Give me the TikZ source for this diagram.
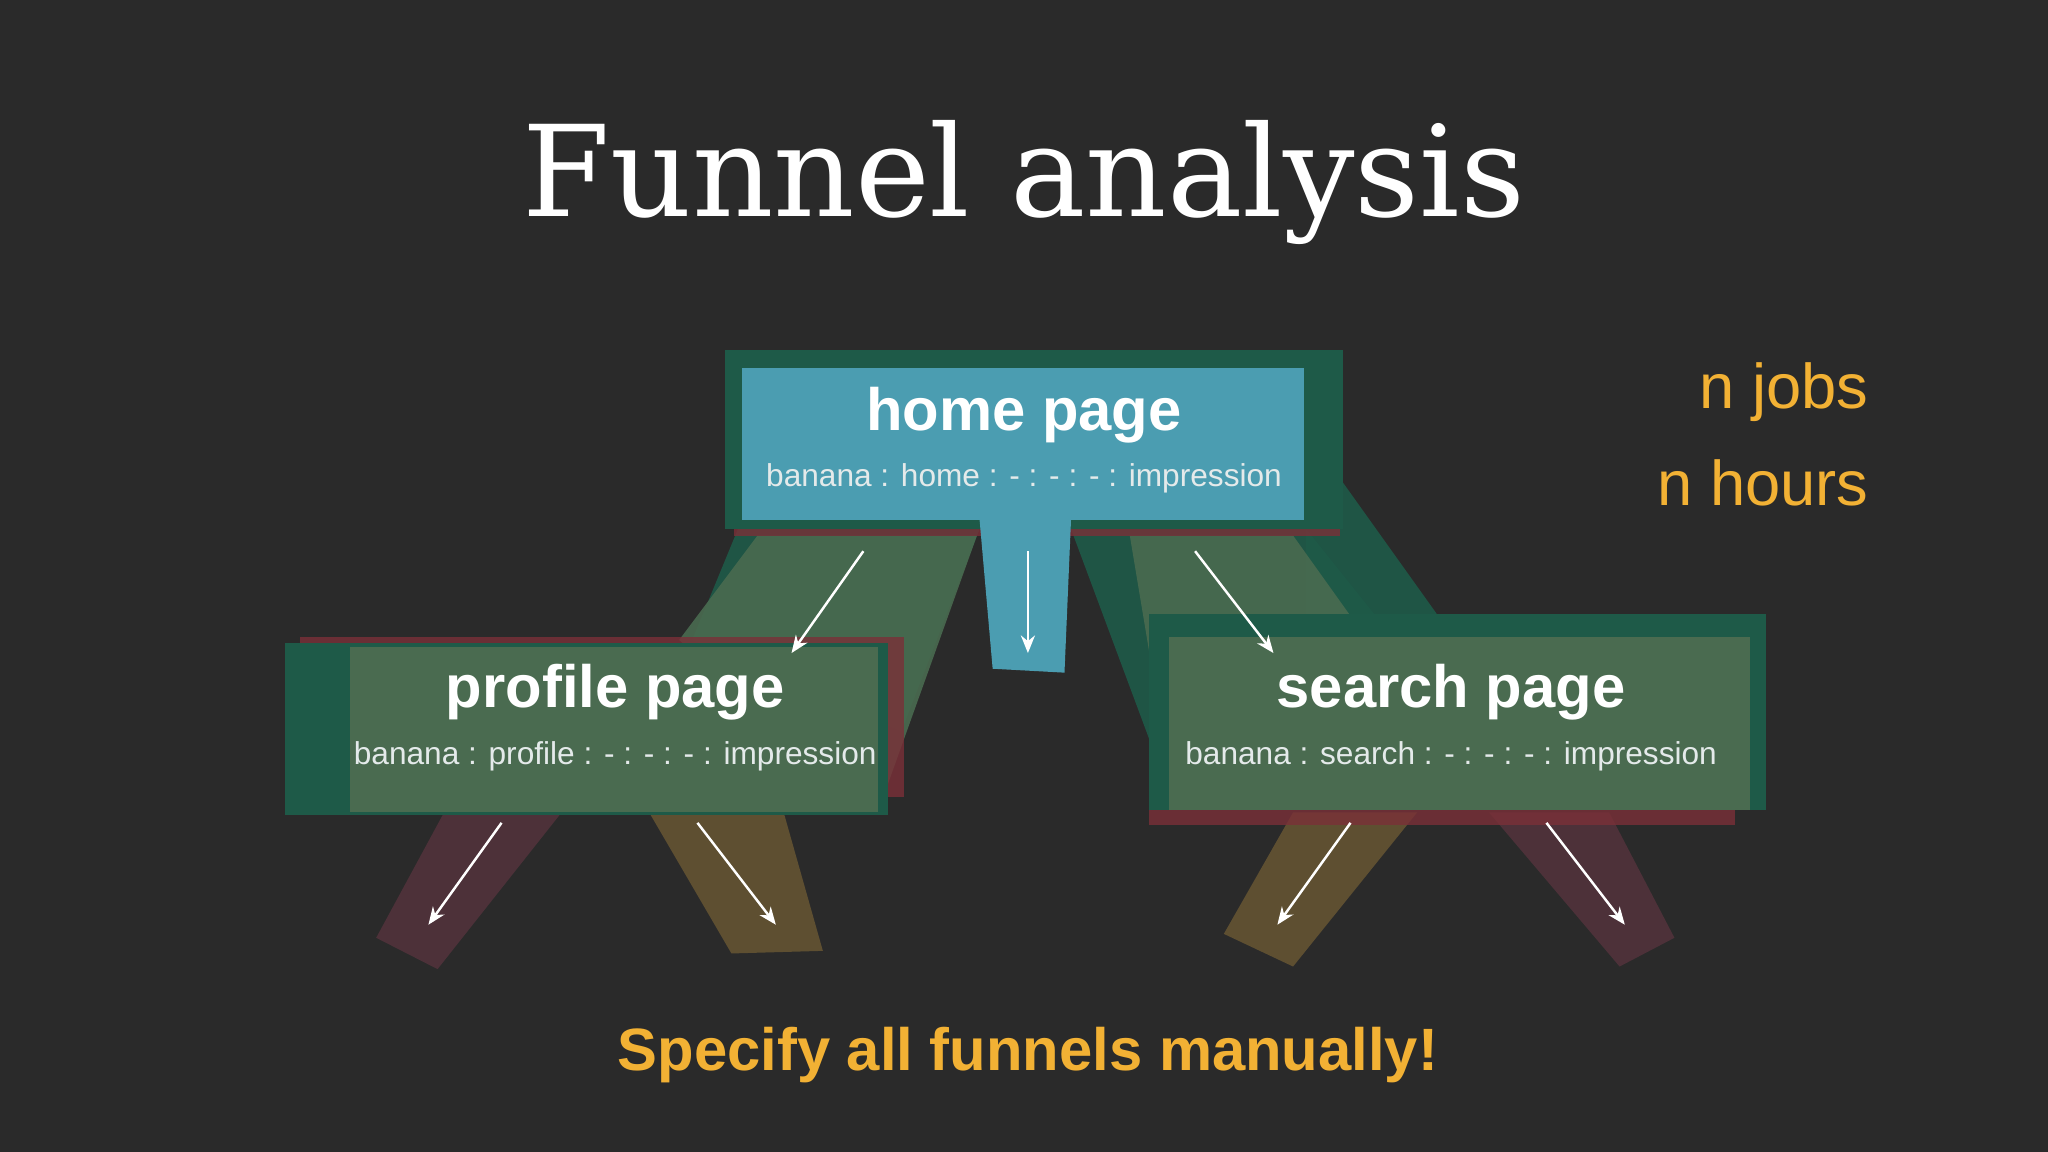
\documentclass[tikz,border=0pt]{standalone}
\usepackage{fontspec}
\setmainfont{Liberation Sans}
\newfontfamily\titlefont{DejaVu Serif}
\usetikzlibrary{arrows.meta}
\definecolor{bg}{HTML}{2A2A2A}
\definecolor{hblue}{HTML}{4B9DB1}
\definecolor{pgreen}{HTML}{4A6B50}
\definecolor{dgreen}{HTML}{1E5A48}
\definecolor{maroon}{HTML}{4D3139}
\definecolor{olive}{HTML}{5E4F31}
\definecolor{dred}{HTML}{7A3038}
\definecolor{orng}{HTML}{F2B134}
\definecolor{sub}{HTML}{E4EAEA}
\tikzset{
  flow/.style={draw=white, line width=0.7pt, -{Stealth[length=5pt,width=4pt]}},
  big/.style={text=white, font=\fontsize{17}{20}\selectfont\bfseries},
  small/.style={text=sub, font=\fontsize{9}{11}\selectfont},
  side/.style={text=orng, font=\fontsize{18}{22}\selectfont, anchor=east}
}
\begin{document}
\begin{tikzpicture}[x=0.013061cm,y=-0.013061cm]
\fill[bg] (0,0) rectangle (1568,882);
\useasboundingbox (0,0) rectangle (1568,882);
\node[text=white, font=\titlefont\fontsize{36}{40}\selectfont] (title) at (784,140) {Funnel analysis};
% connector bands
\fill[dgreen, opacity=0.9] (565,405) -- (750,405) -- (690,560) -- (530,490) -- cycle;
\fill[pgreen, opacity=0.9] (580,410) -- (748,410) -- (672,622) -- (520,490) -- cycle;
\fill[dgreen, opacity=0.9] (1000,330) -- (1100,470) -- (1000,470) -- cycle;
\fill[dgreen, opacity=0.9] (820,405) -- (1000,405) -- (1060,480) -- (900,620) -- cycle;
\fill[pgreen, opacity=0.9] (865,410) -- (990,410) -- (1040,480) -- (900,620) -- cycle;
% legs
\fill[maroon] (340,622) -- (430,622) -- (335,742) -- (288,718) -- cycle;
\fill[olive] (497,622) -- (600,622) -- (630,728) -- (560,730) -- cycle;
\fill[olive] (990,622) -- (1085,622) -- (990,740) -- (937,715) -- cycle;
\fill[maroon] (1140,622) -- (1232,622) -- (1282,718) -- (1240,740) -- cycle;
% home layers
\fill[dred, opacity=0.8] (562,272) rectangle (1026,410);
\fill[dgreen] (555,268) rectangle (1028,405);
\fill[hblue] (568,282) rectangle (998,398);
\fill[hblue] (750,398) -- (820,398) -- (815,515) -- (760,512) -- cycle;
% profile layers
\fill[dred, opacity=0.8] (230,488) rectangle (692,610);
\fill[dgreen] (218,492) rectangle (680,624);
\fill[pgreen] (268,495) rectangle (672,622);
% search layers
\fill[dred, opacity=0.8] (880,478) rectangle (1328,632);
\fill[dgreen] (880,470) rectangle (1352,620);
\fill[pgreen] (895,488) rectangle (1340,620);
% texts
\node[big] (home) at (784,318) {home page};
\node[small] (homes) at (784,366) {banana : home : - : - : - : impression};
\node[big] (prof) at (471,530) {profile page};
\node[small] (profs) at (471,579) {banana : profile : - : - : - : impression};
\node[big] (srch) at (1111,530) {search page};
\node[small] (srchs) at (1111,579) {banana : search : - : - : - : impression};
\node[side] (jobs) at (1440,300) {n jobs};
\node[side] (hours) at (1440,370) {n hours};
\node[text=orng, font=\fontsize{17}{20}\selectfont\bfseries] (spec) at (787,808) {Specify all funnels manually!};
% arrows
\coordinate (a1) at (661,422); \coordinate (b1) at (606,500);
\coordinate (a2) at (787,422); \coordinate (b2) at (787,500);
\coordinate (a3) at (915,422); \coordinate (b3) at (975,500);
\coordinate (a4) at (384,630); \coordinate (b4) at (328,708);
\coordinate (a5) at (534,630); \coordinate (b5) at (594,708);
\coordinate (a6) at (1034,630); \coordinate (b6) at (978,708);
\coordinate (a7) at (1184,630); \coordinate (b7) at (1244,708);
\foreach \i in {1,...,7} \draw[flow] (a\i) -- (b\i);
\end{tikzpicture}
\end{document}
